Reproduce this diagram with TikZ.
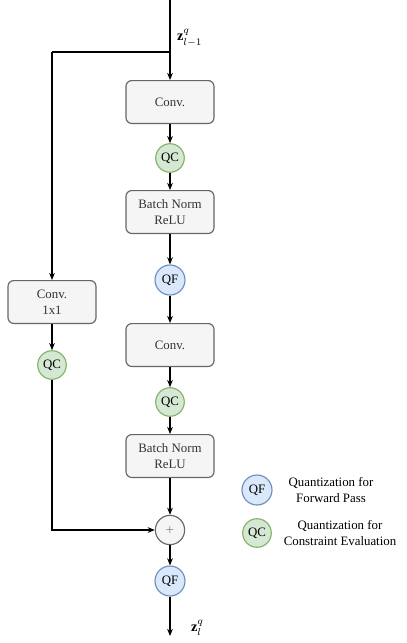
\documentclass[tikz,border=0pt]{standalone}
\usepackage{amsmath, amssymb}
\usepackage{fontspec}
\setmainfont{Liberation Serif}
\usetikzlibrary{arrows.meta, positioning, shapes.geometric, calc}

\definecolor{qfFill}{HTML}{DAE8FC}
\definecolor{qfLine}{HTML}{6C8EBF}
\definecolor{qcFill}{HTML}{D5E8D4}
\definecolor{qcLine}{HTML}{82B366}
\definecolor{boxFill}{HTML}{F5F5F5}
\definecolor{boxLine}{HTML}{666666}

\tikzset{
    opbox/.style={draw=boxLine, fill=boxFill, rounded corners=4pt, line width=0.8pt,
        minimum width=61.6pt, minimum height=30pt, align=center, font=\small, text=black!80},
    qfnode/.style={circle, draw=qfLine, fill=qfFill, line width=0.8pt,
        minimum size=21pt, inner sep=0pt, font=\small},
    qcnode/.style={circle, draw=qcLine, fill=qcFill, line width=0.8pt,
        minimum size=20pt, inner sep=0pt, font=\small},
    addnode/.style={circle, draw=boxLine, fill=boxFill, line width=0.8pt,
        minimum size=20.5pt, inner sep=0pt, font=\scriptsize, text=black!70},
    flow/.style={-{Stealth[length=5pt, width=4pt]}, line width=0.8pt},
    wire/.style={line width=0.8pt}
}

\begin{document}
\begin{tikzpicture}[x=0.7pt, y=-0.7pt]
    \useasboundingbox (0,0) rectangle (406,643);

    % Main path
    \coordinate (in) at (170,0);
    \coordinate (split) at (170,52);
    \node[opbox] (conv1) at (170,102) {Conv.};
    \node[qcnode] (qc1) at (170,158) {QC};
    \node[opbox] (bn1) at (170,212) {Batch Norm\\ReLU};
    \node[qfnode] (qf1) at (170,280) {QF};
    \node[opbox] (conv2) at (170,345) {Conv.};
    \node[qcnode] (qc2) at (170,402) {QC};
    \node[opbox] (bn2) at (170,456) {Batch Norm\\ReLU};
    \node[addnode] (add) at (170,530) {$+$};
    \node[qfnode] (qf2) at (170,581) {QF};
    \coordinate (out) at (170,636);

    % Shortcut path
    \coordinate (sc) at (52,52);
    \node[opbox] (conv3) at (52,302) {Conv.\\1x1};
    \node[qcnode] (qc3) at (52,365) {QC};
    \coordinate (join) at (52,530);

    % Labels
    \node[right] (zin) at (172,38) {$\mathbf{z}_{l-1}^{q}$};
    \node[right] (zout) at (186,628) {$\mathbf{z}_{l}^{q}$};

    % Connections
    \draw[flow] (in) -- (conv1);
    \draw[flow] (conv1) -- (qc1);
    \draw[flow] (qc1) -- (bn1);
    \draw[flow] (bn1) -- (qf1);
    \draw[flow] (qf1) -- (conv2);
    \draw[flow] (conv2) -- (qc2);
    \draw[flow] (qc2) -- (bn2);
    \draw[flow] (bn2) -- (add);
    \draw[flow] (add) -- (qf2);
    \draw[flow] (qf2) -- (out);
    \draw[wire] (split) -- (sc);
    \draw[flow] (sc) -- (conv3);
    \draw[flow] (conv3) -- (qc3);
    \draw[flow] (qc3) -- (join) -- (add);

    % Legend
    \node[qfnode] (lgqf) at (257,490) {QF};
    \node[align=center, font=\small] (lgqftext) at (331,490) {Quantization for\\Forward Pass};
    \node[qcnode] (lgqc) at (257,533) {QC};
    \node[align=center, font=\small] (lgqctext) at (340,533) {Quantization for\\Constraint Evaluation};
\end{tikzpicture}
\end{document}
